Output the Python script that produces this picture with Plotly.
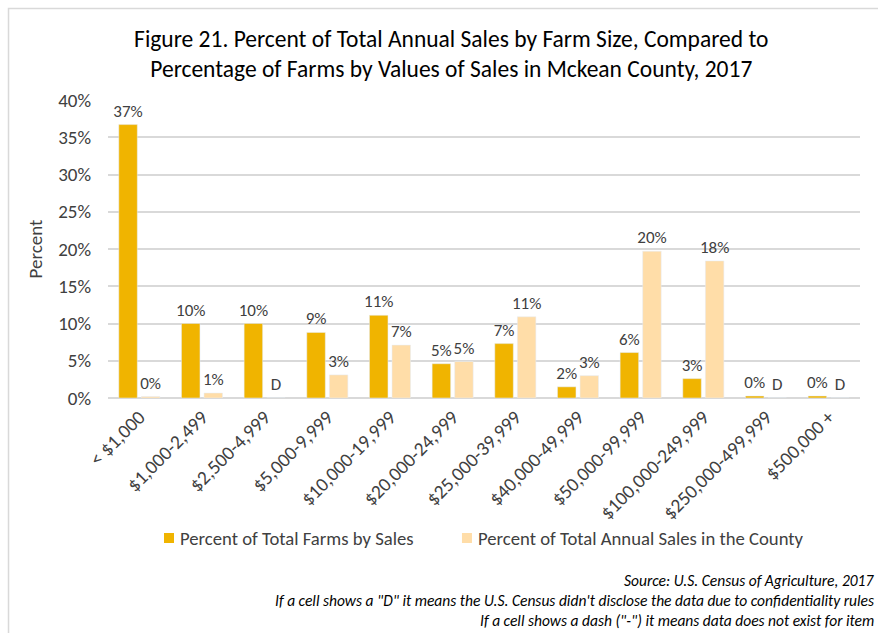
import plotly.graph_objects as go

# Sales classes (value of sales per farm)
categories = ["< $1,000", "$1,000-2,499", "$2,500-4,999", "$5,000-9,999",
              "$10,000-19,999", "$20,000-24,999", "$25,000-39,999",
              "$40,000-49,999", "$50,000-99,999", "$100,000-249,999",
              "$250,000-499,999", "$500,000 +"]

# Share of farms in each class (fraction)
pct_farms = [0.367, 0.100, 0.100, 0.088, 0.111, 0.046, 0.073, 0.015,
             0.061, 0.026, 0.0027, 0.0027]

# Share of county sales in each class (None = withheld, shown as "D")
pct_sales = [0.002, 0.0067, None, 0.031, 0.071, 0.049, 0.109, 0.030,
             0.197, 0.184, None, None]

series_names = ["Percent of Total Farms by Sales",
                "Percent of Total Annual Sales in the County"]

GOLD = "#F0B400"
PEACH = "#FFDDA8"
TXT = "#404040"
FONT = "Carlito, Lato, sans-serif"

farm_text = [f"{v * 100:.0f}%" for v in pct_farms]
sales_y = [v if v is not None else 0 for v in pct_sales]
sales_text = [f"{v * 100:.0f}%" if v is not None else "D" for v in pct_sales]

fig = go.Figure()
for name, ys, txt, col in [(series_names[0], pct_farms, farm_text, GOLD),
                           (series_names[1], sales_y, sales_text, PEACH)]:
    fig.add_trace(go.Bar(
        x=categories, y=ys, name=name, marker_color=col,
        text=txt, textposition="outside", constraintext="none",
        textfont=dict(size=17, color=TXT, family=FONT), cliponaxis=False,
        showlegend=False,
    ))

fig.update_layout(
    width=878, height=633,
    margin=dict(l=108, r=18, t=100, b=235),
    paper_bgcolor="white", plot_bgcolor="white",
    font=dict(family=FONT, color=TXT, size=15),
    title=dict(
        text="Figure 21. Percent of Total Annual Sales by Farm Size, Compared to<br>"
             "Percentage of Farms by Values of Sales in Mckean County, 2017",
        x=0.514, xanchor="center", y=0.926, yanchor="middle",
        font=dict(size=23.5, color="#000000", family=FONT),
    ),
    barmode="group", bargap=0.28, bargroupgap=0.18,
    showlegend=False,
)

fig.update_yaxes(
    range=[0, 0.4], dtick=0.05, tickformat=".0%",
    showgrid=True, gridcolor="#D9D9D9", gridwidth=1.5,
    zeroline=True, zerolinecolor="#D9D9D9", zerolinewidth=1.5,
    showline=False, ticks="", tickfont=dict(size=19, color=TXT),
    ticklabelstandoff=16,
    title=dict(text="Percent", font=dict(size=19, color=TXT), standoff=10),
)
fig.update_xaxes(
    tickangle=-45, tickfont=dict(size=19.5, color=TXT),
    showline=False, ticks="", ticklabelstandoff=3,
)

# legend drawn as colour swatches with labels beside them
legend_items = [(series_names[0], GOLD, 0.0745), (series_names[1], PEACH, 0.4707)]
for name, col, x0 in legend_items:
    fig.add_shape(type="rect", xref="paper", yref="paper",
                  x0=x0, x1=x0 + 0.0133, y0=-0.4866, y1=-0.453,
                  fillcolor=col, line=dict(width=0))
    fig.add_annotation(text=name, xref="paper", yref="paper",
                       x=x0 + 0.0186, xanchor="left", y=-0.4698, yanchor="middle",
                       showarrow=False, font=dict(size=18.7, color=TXT))

notes = [
    "Source: U.S. Census of Agriculture, 2017",
    'If a cell shows a "D" it means the U.S. Census didn\'t disclose the data due to confidentiality rules',
    'If a cell shows a dash ("-") it means data does not exist for item',
]
for i, note in enumerate(notes):
    fig.add_annotation(
        text=f"<i>{note}</i>", xref="paper", yref="paper",
        x=1.021, xanchor="right", y=-0.611 - i * 0.068, yanchor="middle",
        showarrow=False, font=dict(size=15.5, color="#000000"),
    )

# light frame around the chart area
fig.add_shape(type="rect", xref="paper", yref="paper",
              x0=-0.1323, x1=1.03, y0=-0.82, y1=1.307,
              line=dict(color="#D9D9D9", width=1.5))

fig.write_html("out.html")
